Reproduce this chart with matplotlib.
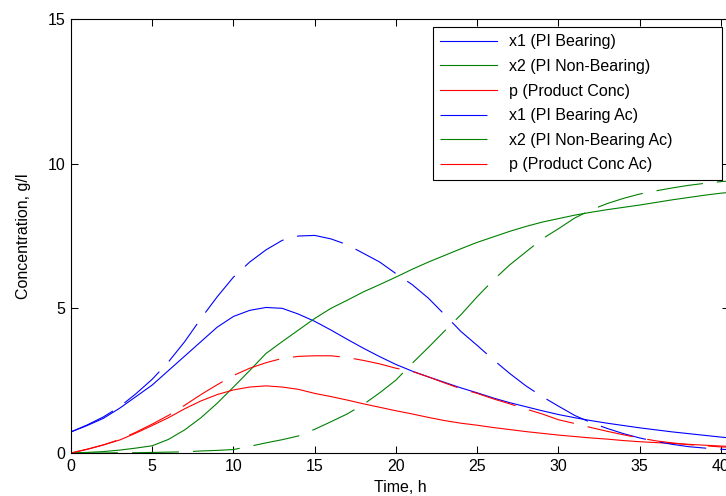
import numpy as np
import matplotlib
matplotlib.use('Agg')
import matplotlib.pyplot as plt

# Simulated vs measured concentrations over the fermentation run
time_h = np.arange(0, 42)

x1 = [0.73, 0.95, 1.20, 1.55, 1.95, 2.35, 2.85, 3.35, 3.85, 4.35,
      4.72, 4.93, 5.03, 5.00, 4.80, 4.55, 4.25, 3.93, 3.62, 3.33,
      3.06, 2.83, 2.63, 2.44, 2.25, 2.08, 1.90, 1.74, 1.60, 1.46,
      1.33, 1.22, 1.12, 1.03, 0.95, 0.87, 0.80, 0.73, 0.67, 0.61,
      0.55, 0.50]
x2 = [0.00, 0.02, 0.05, 0.10, 0.17, 0.25, 0.47, 0.80, 1.22, 1.72,
      2.28, 2.85, 3.44, 3.85, 4.25, 4.65, 5.00, 5.28, 5.57, 5.82,
      6.08, 6.35, 6.60, 6.83, 7.06, 7.28, 7.47, 7.66, 7.83, 7.98,
      8.10, 8.22, 8.32, 8.41, 8.49, 8.57, 8.66, 8.75, 8.83, 8.91,
      8.98, 9.03]
p = [0.00, 0.13, 0.28, 0.45, 0.69, 0.95, 1.22, 1.53, 1.80, 2.02,
     2.18, 2.28, 2.32, 2.28, 2.20, 2.06, 1.95, 1.83, 1.70, 1.58,
     1.46, 1.35, 1.23, 1.12, 1.03, 0.96, 0.88, 0.81, 0.74, 0.68,
     0.62, 0.57, 0.52, 0.48, 0.43, 0.39, 0.36, 0.33, 0.30, 0.27,
     0.24, 0.22]

x1_ac = [0.73, 0.97, 1.25, 1.60, 2.05, 2.55, 3.15, 3.85, 4.65, 5.40,
         6.08, 6.60, 7.02, 7.35, 7.50, 7.52, 7.40, 7.20, 6.90, 6.60,
         6.20, 5.82, 5.35, 4.78, 4.20, 3.72, 3.22, 2.75, 2.32, 1.95,
         1.62, 1.30, 1.05, 0.85, 0.67, 0.52, 0.40, 0.30, 0.22, 0.17,
         0.13, 0.10]
x2_ac = [0.00, 0.00, 0.00, 0.01, 0.01, 0.02, 0.03, 0.04, 0.07, 0.09,
         0.12, 0.23, 0.35, 0.46, 0.59, 0.82, 1.08, 1.35, 1.68, 2.08,
         2.52, 3.10, 3.65, 4.22, 4.78, 5.40, 5.98, 6.50, 6.95, 7.40,
         7.75, 8.12, 8.40, 8.62, 8.80, 8.95, 9.06, 9.16, 9.25, 9.32,
         9.38, 9.42]
p_ac = [0.00, 0.13, 0.28, 0.47, 0.72, 1.00, 1.30, 1.65, 2.02, 2.36,
        2.68, 2.93, 3.12, 3.27, 3.34, 3.36, 3.36, 3.30, 3.20, 3.08,
        2.93, 2.82, 2.63, 2.42, 2.22, 2.06, 1.87, 1.70, 1.52, 1.35,
        1.15, 1.02, 0.88, 0.75, 0.63, 0.52, 0.42, 0.35, 0.29, 0.25,
        0.21, 0.19]

labels = ['x1 (PI Bearing)', 'x2 (PI Non-Bearing)', 'p (Product Conc)',
          'x1 (PI Bearing Ac)', 'x2 (PI Non-Bearing Ac)', 'p (Product Conc Ac)']

plt.rcParams['font.family'] = ['Liberation Sans', 'DejaVu Sans']
plt.rcParams['font.size'] = 11.5
plt.rcParams['lines.scale_dashes'] = False

fig = plt.figure(figsize=(7.26, 4.96), dpi=100)
ax = fig.add_axes([71 / 726, 43 / 496, 658 / 726, 434 / 496])

lw = 0.8
dash = (0, (33.8, 10.1))
ax.plot(time_h, x1, color='#0000ff', lw=lw, label=labels[0])
ax.plot(time_h, x2, color='#008000', lw=lw, label=labels[1])
ax.plot(time_h, p, color='#ff0000', lw=lw, label=labels[2])
ax.plot(time_h, x1_ac, color='#0000ff', lw=lw, ls=dash, label=labels[3])
ax.plot(time_h, x2_ac, color='#008000', lw=lw, ls=dash, label=labels[4])
ax.plot(time_h, p_ac, color='#ff0000', lw=lw, ls=dash, label=labels[5])

ax.set_xlim(0, 40.5)
ax.set_ylim(0, 15)
ax.set_xticks(np.arange(0, 45, 5))
ax.set_yticks([0, 5, 10, 15])
ax.tick_params(direction='in', top=True, right=True, length=5, width=0.75,
               labelsize=11.5, pad=4)
for s in ax.spines.values():
    s.set_linewidth(0.8)

ax.set_xlabel('Time, h', fontsize=11.5, labelpad=5)
ax.set_ylabel('Concentration, g/l', fontsize=11.5, labelpad=12)

leg = ax.legend(loc='upper left', bbox_to_anchor=(0.550, 0.638, 0.439, 0.343),
                mode='expand', borderaxespad=0, fontsize=11.5,
                handlelength=3.55, handletextpad=0.75, labelspacing=0.6,
                borderpad=0.45, fancybox=False, framealpha=1)
leg.get_frame().set_edgecolor('black')
leg.get_frame().set_linewidth(0.8)

fig.savefig('out.png', dpi=100)
